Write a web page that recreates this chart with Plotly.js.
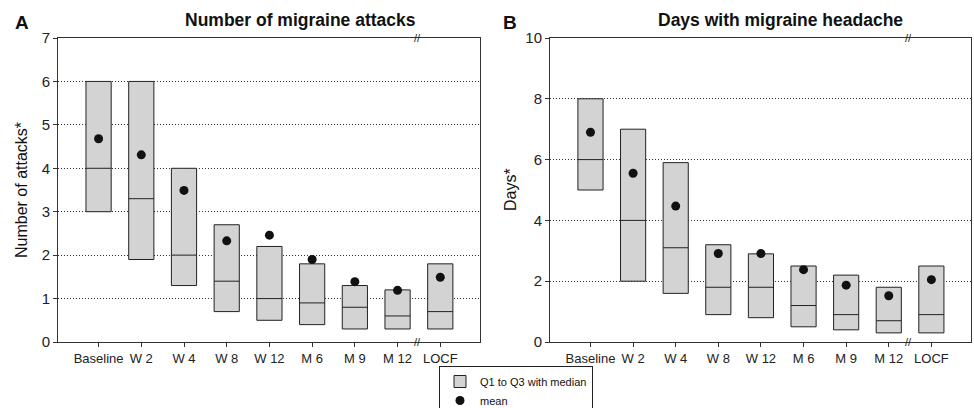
<!DOCTYPE html>
<html><head><meta charset="utf-8">
<script src="https://cdn.plot.ly/plotly-3.0.1.min.js"></script>
<style>html,body{margin:0;padding:0;background:#fff}</style>
</head><body><div id="chart" style="width:974px;height:408px"></div>
<script>
const categories = ["Baseline","W 2","W 4","W 8","W 12","M 6","M 9","M 12","LOCF"];
// Panel A: number of migraine attacks
const attacksQ1     = [3.0, 1.9, 1.3, 0.7, 0.5, 0.4, 0.3, 0.3, 0.3];
const attacksMedian = [4.0, 3.3, 2.0, 1.4, 1.0, 0.9, 0.8, 0.6, 0.7];
const attacksQ3     = [6.0, 6.0, 4.0, 2.7, 2.2, 1.8, 1.3, 1.2, 1.8];
const attacksMean   = [4.68, 4.31, 3.49, 2.33, 2.46, 1.90, 1.39, 1.19, 1.49];
// Panel B: days with migraine headache
const daysQ1     = [5.0, 2.0, 1.6, 0.9, 0.8, 0.5, 0.4, 0.3, 0.3];
const daysMedian = [6.0, 4.0, 3.1, 1.8, 1.8, 1.2, 0.9, 0.7, 0.9];
const daysQ3     = [8.0, 7.0, 5.9, 3.2, 2.9, 2.5, 2.2, 1.8, 2.5];
const daysMean   = [6.9, 5.55, 4.47, 2.91, 2.91, 2.38, 1.87, 1.52, 2.05];

const FONT = "Liberation Sans, Arial, sans-serif";
function boxTrace(q1, med, q3, xa, ya, show){
  return {type:"box", x:categories, q1:q1, median:med, q3:q3, lowerfence:q1, upperfence:q3,
    xaxis:xa, yaxis:ya, width:0.59, whiskerwidth:0, fillcolor:"#d3d3d3",
    line:{color:"#222", width:1}, name:"Q1 to Q3 with median", showlegend:show, hoverinfo:"skip"};
}
function meanTrace(m, xa, ya, show){
  return {type:"scatter", mode:"markers", x:categories, y:m, xaxis:xa, yaxis:ya,
    marker:{color:"#111", size:9}, name:"mean", showlegend:show, cliponaxis:false};
}
const data = [
  boxTrace(attacksQ1, attacksMedian, attacksQ3, "x", "y", true),
  meanTrace(attacksMean, "x", "y", true),
  boxTrace(daysQ1, daysMedian, daysQ3, "x2", "y2", false),
  meanTrace(daysMean, "x2", "y2", false)
];
const yDom = [66/408, 370/408];
function xaxis(dom){
  return {domain:dom, type:"category", range:[-0.95, 8.93], showgrid:false, zeroline:false,
    showline:true, linecolor:"#333", linewidth:1, mirror:true, ticks:"outside", ticklen:4,
    tickcolor:"#333", tickfont:{family:FONT, size:13, color:"#222"}, fixedrange:true};
}
function yaxis(dom, max, dt, anchor){
  return {domain:dom, anchor:anchor, range:[0,max], dtick:dt, showgrid:true, gridcolor:"#333",
    griddash:"1px,2px", gridwidth:1, zeroline:false, showline:true, linecolor:"#333", linewidth:1,
    mirror:true, ticks:"outside", ticklen:4, tickcolor:"#333",
    tickfont:{family:FONT, size:15, color:"#222"}, fixedrange:true};
}
const ann = [];
function addText(t, x, y, size, bold, angle){
  ann.push({text: bold ? "<b>"+t+"</b>" : t, xref:"paper", yref:"paper", x:x/974, y:1-y/408,
    showarrow:false, xanchor:"center", yanchor:"middle", textangle:angle||0,
    font:{family:FONT, size:size, color:"#111"}});
}
addText("A", 22, 22, 19, true);
addText("B", 510, 22, 19, true);
addText("Number of migraine attacks", 300, 20, 17.5, true);
addText("Days with migraine headache", 780, 20, 17.5, true);
addText("Number of attacks*", 21, 190, 16, false, -90);
addText("Days*", 510, 190, 16, false, -90);
// axis break marks between M 12 and LOCF
[["x","y"],["x2","y2"]].forEach(([xa,ya])=>{
  const yd = ya==="y" ? "y domain" : "y2 domain";
  [0,1].forEach(yy=>{
    ann.push({text:"//", xref:xa, yref:yd, x:7.47, y:yy, showarrow:false, xanchor:"center",
      yanchor:"middle", borderpad:0,
      font:{family:FONT, size:11, color:"#222"}});
  });
});
const layout = {
  width:974, height:408, margin:{l:0,r:0,t:0,b:0, autoexpand:false}, paper_bgcolor:"#fff", plot_bgcolor:"#fff",
  font:{family:FONT, color:"#111"},
  xaxis: Object.assign(xaxis([58/974, 480/974]), {anchor:"y"}),
  yaxis: yaxis(yDom, 7, 1, "x"),
  xaxis2: Object.assign(xaxis([550/974, 971/974]), {anchor:"y2"}),
  yaxis2: yaxis(yDom, 10, 2, "x2"),
  showlegend:true,
  legend:{x:439/974, y:1-366/408, xanchor:"left", yanchor:"top", bgcolor:"#fff",
    bordercolor:"#222", borderwidth:1, font:{family:FONT, size:11, color:"#111"},
    tracegroupgap:0, itemwidth:30},
  annotations: ann
};
Plotly.newPlot("chart", data, layout, {staticPlot:true});
</script></body></html>
